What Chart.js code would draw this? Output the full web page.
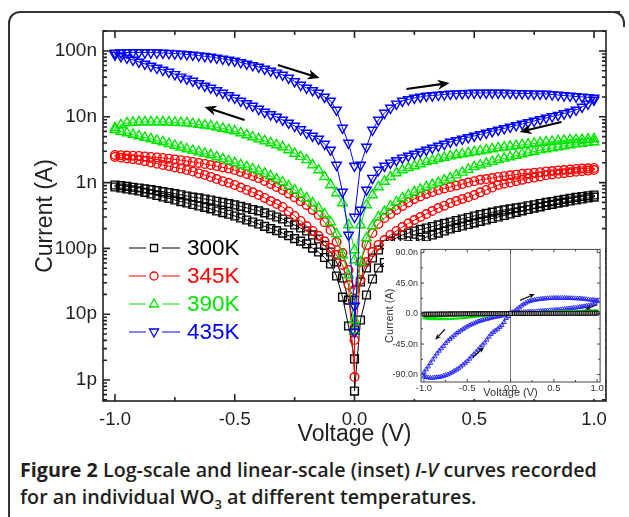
<!DOCTYPE html>
<html>
<head>
<meta charset="utf-8">
<script src="https://cdn.jsdelivr.net/npm/chart.js@4.4.0/dist/chart.umd.min.js"></script>
<style>
html, body { margin: 0; padding: 0; background: #fff; }
body { width: 629px; height: 517px; position: relative; overflow: hidden; }
#frame { position: absolute; left: 8px; top: 11px; width: 610px; height: 520px;
  border-top: 2px solid #333; border-left: 2px solid #333; border-top-left-radius: 12px; }
#corner { position: absolute; left: 610px; top: 11px; width: 13px; height: 14px;
  border-top: 2px solid #333; border-right: 2px solid #333; border-top-right-radius: 12px; }
#main { position: absolute; left: 0; top: 0; }
#inset { position: absolute; left: 384px; top: 241px; }
#cap { position: absolute; left: 20px; top: 456px; font-family: 'Open Sans', sans-serif;
  font-weight: 600; font-size: 19.7px; line-height: 27px; color: #231f20; white-space: nowrap; }
#cap b { font-weight: 700; }
#cap sub { font-size: 13px; line-height: 0; }
</style>
</head>
<body>
<div id="frame"></div>
<div id="corner"></div>
<canvas id="main" width="629" height="450"></canvas>
<canvas id="inset" width="221" height="158"></canvas>
<div id="cap"><b>Figure 2</b> Log-scale and linear-scale (inset) <i>I-V</i> curves recorded<br>for an individual WO<sub>3</sub> at different temperatures.</div>
<script>
// sweep voltages (V)
const vPos = [0, 0.025, 0.05, 0.075, 0.1, 0.125, 0.15, 0.175, 0.2, 0.225, 0.25, 0.275, 0.3, 0.325, 0.35, 0.375, 0.4,
  0.425, 0.45, 0.475, 0.5, 0.525, 0.55, 0.575, 0.6, 0.625, 0.65, 0.675, 0.7, 0.725, 0.75, 0.775, 0.8, 0.825, 0.85,
  0.875, 0.9, 0.925, 0.95, 0.975, 1];
const vNeg = [0, -0.025, -0.05, -0.075, -0.1, -0.125, -0.15, -0.175, -0.2, -0.225, -0.25, -0.275, -0.3, -0.325, -0.35,
  -0.375, -0.4, -0.425, -0.45, -0.475, -0.5, -0.525, -0.55, -0.575, -0.6, -0.625, -0.65, -0.675, -0.7, -0.725, -0.75,
  -0.775, -0.8, -0.825, -0.85, -0.875, -0.9, -0.925, -0.95, -0.975, -1];

// |current| in nA, four sweep legs: 0->1, 1->0, 0->-1, -1->0
const i300Up = [0.0164, 0.0309, 0.0504, 0.0714, 0.0946, 0.113, 0.129, 0.144, 0.160, 0.171, 0.184, 0.194, 0.204, 0.215,
  0.227, 0.240, 0.252, 0.265, 0.280, 0.295, 0.311, 0.326, 0.340, 0.355, 0.371, 0.384, 0.399, 0.413, 0.426, 0.444, 0.460,
  0.480, 0.500, 0.515, 0.535, 0.555, 0.575, 0.595, 0.615, 0.630, 0.648];
const i300Back = [0.600, 0.584, 0.563, 0.544, 0.525, 0.505, 0.487, 0.466, 0.449, 0.428, 0.410, 0.390, 0.371, 0.352,
  0.333, 0.316, 0.300, 0.285, 0.270, 0.257, 0.244, 0.231, 0.219, 0.208, 0.197, 0.184, 0.171, 0.160, 0.149, 0.136, 0.125,
  0.113, 0.101, 0.0866, 0.0740, 0.0610, 0.0504, 0.0343, 0.0196, 0.00817, 0.00068];
const i300Neg = [0.00209, 0.00662, 0.0182, 0.0381, 0.0579, 0.0728, 0.0882, 0.101, 0.117, 0.129, 0.141, 0.156, 0.171,
  0.186, 0.200, 0.216, 0.235, 0.252, 0.270, 0.290, 0.311, 0.330, 0.350, 0.370, 0.399, 0.420, 0.441, 0.465, 0.490, 0.515,
  0.544, 0.575, 0.604, 0.637, 0.671, 0.710, 0.746, 0.773, 0.800, 0.828, 0.857];
const i300NegBack = [0.920, 0.900, 0.874, 0.850, 0.828, 0.800, 0.780, 0.756, 0.730, 0.705, 0.680, 0.652, 0.626, 0.600,
  0.584, 0.563, 0.544, 0.520, 0.500, 0.479, 0.457, 0.435, 0.413, 0.390, 0.371, 0.346, 0.322, 0.300, 0.280, 0.252, 0.227,
  0.204, 0.184, 0.160, 0.139, 0.111, 0.0882, 0.0621, 0.0355, 0.0164, 0.00575];

const i345Up = [0.0233, 0.0621, 0.113, 0.171, 0.235, 0.290, 0.333, 0.384, 0.441, 0.500, 0.563, 0.614, 0.671, 0.720,
  0.773, 0.814, 0.857, 0.900, 0.950, 1.00, 1.05, 1.10, 1.13, 1.17, 1.22, 1.25, 1.29, 1.32, 1.36, 1.38, 1.41, 1.44, 1.48,
  1.50, 1.53, 1.55, 1.58, 1.61, 1.63, 1.65, 1.67];
const i345Back = [1.55, 1.52, 1.49, 1.46, 1.43, 1.39, 1.36, 1.33, 1.29, 1.24, 1.19, 1.15, 1.10, 1.05, 1.00, 0.96, 0.920,
  0.840, 0.773, 0.710, 0.648, 0.600, 0.563, 0.525, 0.490, 0.445, 0.410, 0.370, 0.333, 0.300, 0.270, 0.240, 0.211, 0.184,
  0.160, 0.134, 0.113, 0.0882, 0.0621, 0.0331, 0.00405];
const i345Neg = [0.00111, 0.0278, 0.0560, 0.0794, 0.101, 0.128, 0.155, 0.184, 0.219, 0.261, 0.311, 0.364, 0.426, 0.473,
  0.525, 0.584, 0.648, 0.710, 0.773, 0.840, 0.920, 0.990, 1.05, 1.13, 1.22, 1.30, 1.38, 1.47, 1.55, 1.63, 1.70, 1.78,
  1.85, 1.94, 2.02, 2.12, 2.21, 2.27, 2.33, 2.39, 2.45];
const i345NegBack = [2.63, 2.61, 2.58, 2.56, 2.54, 2.50, 2.45, 2.41, 2.37, 2.31, 2.25, 2.19, 2.13, 2.06, 1.99, 1.92,
  1.85, 1.78, 1.70, 1.63, 1.55, 1.45, 1.35, 1.26, 1.17, 1.06, 0.950, 0.857, 0.773, 0.680, 0.600, 0.520, 0.457, 0.384,
  0.322, 0.250, 0.190, 0.125, 0.0850, 0.0470, 0.0233];

const i390Up = [0.0667, 0.227, 0.457, 0.648, 0.857, 1.04, 1.22, 1.40, 1.55, 1.67, 1.79, 1.92, 2.06, 2.17, 2.29, 2.41,
  2.54, 2.63, 2.72, 2.82, 2.92, 3.02, 3.13, 3.24, 3.36, 3.45, 3.54, 3.64, 3.73, 3.84, 3.93, 4.04, 4.14, 4.21, 4.29, 4.37,
  4.44, 4.49, 4.52, 4.57, 4.60];
const i390Back = [4.14, 4.04, 3.93, 3.84, 3.73, 3.60, 3.48, 3.36, 3.24, 3.11, 2.97, 2.85, 2.72, 2.58, 2.45, 2.33, 2.21,
  2.08, 1.96, 1.84, 1.73, 1.58, 1.43, 1.30, 1.17, 1.09, 1.00, 0.93, 0.857, 0.788, 0.720, 0.648, 0.584, 0.507, 0.441,
  0.362, 0.300, 0.219, 0.144, 0.0621, 0.00817];
const i390Neg = [0.00575, 0.0394, 0.0794, 0.166, 0.252, 0.333, 0.411, 0.490, 0.584, 0.671, 0.773, 0.888, 1.02, 1.13,
  1.26, 1.38, 1.50, 1.61, 1.73, 1.85, 1.99, 2.13, 2.29, 2.45, 2.63, 2.77, 2.92, 3.07, 3.24, 3.45, 3.66, 3.90, 4.14, 4.37,
  4.60, 4.85, 5.11, 5.38, 5.67, 5.98, 6.30];
const i390NegBack = [6.76, 7.50, 8.05, 8.20, 8.34, 8.34, 8.34, 8.34, 8.34, 8.27, 8.19, 8.12, 8.05, 7.85, 7.60, 7.45,
  7.24, 6.93, 6.64, 6.36, 6.08, 5.67, 5.29, 4.93, 4.60, 4.29, 4.00, 3.73, 3.48, 3.13, 2.77, 2.48, 2.21, 1.85, 1.55, 1.22,
  0.920, 0.695, 0.490, 0.227, 0.0946];

const i435Up = [0.300, 1.85, 3.48, 6.30, 8.94, 11.4, 13.6, 15.7, 17.4, 18.3, 19.3, 20.0, 20.7, 21.0, 21.4, 21.8, 22.2,
  22.4, 22.6, 22.8, 23.0, 23.0, 23.0, 23.0, 23.0, 23.0, 22.8, 22.7, 22.6, 22.5, 22.3, 22.2, 22.2, 21.8, 21.4, 21.0, 20.7,
  20.3, 20.0, 19.7, 19.3];
const i435Back = [18.0, 15.7, 14.1, 12.7, 11.8, 11.2, 10.6, 10.1, 9.59, 9.10, 8.63, 8.19, 7.78, 7.38, 7.00, 6.64, 6.30,
  5.98, 5.67, 5.38, 5.11, 4.85, 4.60, 4.37, 4.14, 3.86, 3.60, 3.36, 3.13, 2.92, 2.72, 2.54, 2.37, 2.17, 1.99, 1.79, 1.55,
  1.17, 0.773, 0.384, 0.00536];
const i435Neg = [0.0133, 0.160, 0.720, 1.85, 3.13, 3.86, 4.60, 5.11, 5.67, 6.41, 7.24, 8.05, 8.94, 9.93, 10.8, 11.8,
  13.1, 14.6, 15.9, 17.4, 19.3, 21.0, 23.0, 25.1, 27.4, 29.4, 32.1, 35.0, 37.6, 40.4, 44.0, 48.0, 51.4, 55.1, 59.2, 63.5,
  68.1, 73.0, 78.3, 82.5, 86.9];
const i435NegBack = [93.2, 93.9, 94.5, 94.9, 94.9, 94.5, 94.2, 93.9, 93.2, 92.3, 91.0, 90.0, 88.5, 86.9, 84.8, 83.0,
  81.1, 78.3, 75.6, 73.0, 70.5, 66.9, 63.5, 60.2, 57.1, 53.3, 49.7, 46.4, 43.2, 38.9, 34.4, 30.4, 27.4, 25.1, 23.0, 20.0,
  17.4, 12.7, 6.76, 4.00, 1.79];

const seriesNames = ['300K', '345K', '390K', '435K'];

// axis ticks
const xTicks = [-1, -0.5, 0, 0.5, 1];
const yTicks = [0.001, 0.01, 0.1, 1, 10, 100];        // nA
const yTickLabels = ['1p', '10p', '100p', '1n', '10n', '100n'];
const insetYTicks = [-90, -45, 0, 45, 90];            // nA
const insetYLabels = ['-90.0n', '-45.0n', '0.0', '45.0n', '90.0n'];

// arrow annotations [V, I(nA)] tail -> head
const arrowTails = [[-0.32, 61.3], [0.217, 26.4], [0.864, 8.34], [-0.459, 8.94]];
const arrowHeads = [[-0.146, 38.9], [0.397, 32.6], [0.689, 5.87], [-0.626, 14.1]];
const insetArrowTails = [[0.11, 19.4], [1.0, 13], [-0.757, -23.1], [-0.437, -64.8]];
const insetArrowHeads = [[0.28, 28.8], [0.86, 6], [-0.87, -38.7], [-0.305, -49.6]];

const FONT = "'Liberation Sans', Arial, sans-serif";
const COLORS = ['#000000', '#ff0000', '#00e600', '#0000ff'];

function sweep(up, back, neg, negBack) {
  const pts = [];
  up.forEach((c, k) => pts.push({x: vPos[k], y: c}));
  back.forEach((c, k) => pts.push({x: vPos[vPos.length - 1 - k], y: c}));
  neg.forEach((c, k) => pts.push({x: vNeg[k], y: c}));
  negBack.forEach((c, k) => pts.push({x: vNeg[vNeg.length - 1 - k], y: c}));
  return pts;
}
function signed(pts) {
  return pts.map(p => ({x: p.x, y: p.x < 0 ? -p.y : p.y}));
}

const sweeps = [
  sweep(i300Up, i300Back, i300Neg, i300NegBack),
  sweep(i345Up, i345Back, i345Neg, i345NegBack),
  sweep(i390Up, i390Back, i390Neg, i390NegBack),
  sweep(i435Up, i435Back, i435Neg, i435NegBack)
];
const markers = [
  {style: 'rect', r: 5.5, rot: 0},
  {style: 'circle', r: 4.3, rot: 0},
  {style: 'triangle', r: 5.5, rot: 0},
  {style: 'triangle', r: 5.5, rot: 180}
];

function drawArrow(ctx, x0, y0, x1, y1, lw, head) {
  const a = Math.atan2(y1 - y0, x1 - x0), c = Math.cos(a), s = Math.sin(a);
  ctx.lineWidth = lw;
  ctx.beginPath();
  ctx.moveTo(x0, y0);
  ctx.lineTo(x1 - c * head * 0.7, y1 - s * head * 0.7);
  ctx.stroke();
  ctx.beginPath();
  ctx.moveTo(x1, y1);
  ctx.lineTo(x1 - head * c + head * 0.42 * s, y1 - head * s - head * 0.42 * c);
  ctx.lineTo(x1 - head * 0.7 * c, y1 - head * 0.7 * s);
  ctx.lineTo(x1 - head * c - head * 0.42 * s, y1 - head * s + head * 0.42 * c);
  ctx.closePath();
  ctx.fill();
}

function frameTicks(cfg) {
  return {
    id: 'frameTicks',
    afterDraw(chart) {
      const {ctx, chartArea: a, scales: {x, y}} = chart;
      ctx.save();
      ctx.strokeStyle = cfg.color;
      ctx.lineWidth = cfg.width;
      ctx.strokeRect(a.left, a.top, a.right - a.left, a.bottom - a.top);
      ctx.beginPath();
      const tx = (v, len) => {
        const p = x.getPixelForValue(v);
        ctx.moveTo(p, a.bottom); ctx.lineTo(p, a.bottom - len);
        ctx.moveTo(p, a.top); ctx.lineTo(p, a.top + len);
      };
      const ty = (v, len) => {
        if (v < y.min || v > y.max) return;
        const p = y.getPixelForValue(v);
        ctx.moveTo(a.left, p); ctx.lineTo(a.left + len, p);
        ctx.moveTo(a.right, p); ctx.lineTo(a.right - len, p);
      };
      cfg.xMajor.forEach(v => tx(v, cfg.major));
      cfg.xMinor.forEach(v => tx(v, cfg.minor));
      cfg.yMajor.forEach(v => ty(v, cfg.major));
      cfg.yMinor.forEach(v => ty(v, cfg.minor));
      ctx.stroke();
      ctx.restore();
    }
  };
}

function legendMark(ctx, m, x, y, color) {
  ctx.strokeStyle = color;
  ctx.lineWidth = 1.3;
  ctx.beginPath();
  if (m.style === 'rect') {
    ctx.rect(x - 3.5, y - 3.5, 7, 7);
  } else if (m.style === 'circle') {
    ctx.arc(x, y, 4, 0, Math.PI * 2);
  } else {
    const d = m.rot ? -1 : 1;
    ctx.moveTo(x, y - d * 5);
    ctx.lineTo(x + 4.5, y + d * 3);
    ctx.lineTo(x - 4.5, y + d * 3);
    ctx.closePath();
  }
  ctx.stroke();
}

const mainExtras = {
  id: 'mainExtras',
  afterDraw(chart) {
    const {ctx, chartArea: a, scales: {x, y}} = chart;
    ctx.save();
    // legend
    ctx.font = '22.5px ' + FONT;
    ctx.textBaseline = 'middle';
    seriesNames.forEach((name, k) => {
      const ly = a.top + 217 + k * 28;
      const lx = a.left + 26;
      ctx.strokeStyle = COLORS[k];
      ctx.lineWidth = 1;
      ctx.beginPath();
      ctx.moveTo(lx, ly); ctx.lineTo(lx + 17, ly);
      ctx.moveTo(lx + 33, ly); ctx.lineTo(lx + 51, ly);
      ctx.stroke();
      legendMark(ctx, markers[k], lx + 25, ly, COLORS[k]);
      ctx.fillStyle = COLORS[k];
      ctx.fillText(name, lx + 58, ly + 1);
    });
    // sweep arrows
    ctx.strokeStyle = '#000';
    ctx.fillStyle = '#000';
    arrowTails.forEach((t, k) => {
      const h = arrowHeads[k];
      drawArrow(ctx, x.getPixelForValue(t[0]), y.getPixelForValue(t[1]),
        x.getPixelForValue(h[0]), y.getPixelForValue(h[1]), 2.2, 12);
    });
    ctx.restore();
  }
};

const yMinorMain = [];
[0.0001, 0.001, 0.01, 0.1, 1, 10, 100].forEach(d => {
  for (let m = 2; m <= 9; m++) yMinorMain.push(d * m);
});

new Chart(document.getElementById('main'), {
  type: 'scatter',
  data: {
    datasets: sweeps.map((pts, k) => ({
      label: seriesNames[k],
      data: pts,
      showLine: true,
      borderColor: COLORS[k],
      borderWidth: 1,
      pointStyle: markers[k].style,
      pointRadius: markers[k].r,
      pointRotation: markers[k].rot,
      pointBorderWidth: 1.4,
      pointBackgroundColor: 'rgba(0,0,0,0)',
      order: 3 - k
    }))
  },
  options: {
    responsive: false,
    animation: false,
    events: [],
    layout: {padding: {left: 0, top: 31, right: 23, bottom: 0}},
    plugins: {legend: {display: false}, tooltip: {enabled: false}},
    scales: {
      x: {
        type: 'linear', min: -1.05, max: 1.05,
        afterBuildTicks: s => { s.ticks = xTicks.map(v => ({value: v})); },
        afterFit: s => { s.height = 49; },
        grid: {display: false, drawTicks: false},
        border: {display: false},
        ticks: {padding: 8, color: '#222', autoSkip: false, maxRotation: 0,
          font: {family: FONT, size: 18.5}, callback: v => v.toFixed(1)},
        title: {display: true, text: 'Voltage (V)', color: '#222',
          font: {family: FONT, size: 23}, padding: {top: 0, bottom: 2}}
      },
      y: {
        type: 'logarithmic', min: 0.00048, max: 201,
        afterBuildTicks: s => { s.ticks = yTicks.map(v => ({value: v})); },
        afterFit: s => { s.width = 103; },
        grid: {display: false, drawTicks: false},
        border: {display: false},
        ticks: {padding: 6, color: '#222', autoSkip: false,
          font: {family: FONT, size: 19}, callback: (v, i) => yTickLabels[i]},
        title: {display: true, text: 'Current (A)', color: '#222',
          font: {family: FONT, size: 23}, padding: {top: 32, bottom: 0}}
      }
    }
  },
  plugins: [frameTicks({color: '#222', width: 1.6, major: 7, minor: 4,
    xMajor: xTicks, xMinor: [-0.75, -0.25, 0.25, 0.75], yMajor: yTicks, yMinor: yMinorMain}), mainExtras]
});

// ---------- inset (linear scale) ----------
const insetStyles = [
  {color: '#000000', bg: '#9a9a9a', style: 'rect', r: 2.6, line: 1, pbw: 0.8},
  {color: '#ff0000', bg: '#ff0000', style: 'circle', r: 0, line: 2, pbw: 0},
  {color: '#00e600', bg: '#00e600', style: 'circle', r: 0, line: 2.2, pbw: 0},
  {color: '#2020ff', bg: 'rgba(0,0,0,0)', style: 'triangle', r: 2.6, line: 0.8, pbw: 0.9}
];

const insetExtras = {
  id: 'insetExtras',
  beforeDraw(chart) {
    const ctx = chart.ctx;
    ctx.save();
    ctx.fillStyle = '#fff';
    ctx.fillRect(0, 0, chart.width, chart.height);
    ctx.restore();
  },
  afterDraw(chart) {
    const {ctx, scales: {x, y}} = chart;
    ctx.save();
    ctx.strokeStyle = '#111';
    ctx.fillStyle = '#111';
    insetArrowTails.forEach((t, k) => {
      const h = insetArrowHeads[k];
      drawArrow(ctx, x.getPixelForValue(t[0]), y.getPixelForValue(t[1]),
        x.getPixelForValue(h[0]), y.getPixelForValue(h[1]), 1.2, 6);
    });
    ctx.restore();
  }
};

new Chart(document.getElementById('inset'), {
  type: 'scatter',
  data: {
    datasets: sweeps.map((pts, k) => ({
      label: seriesNames[k],
      data: signed(pts),
      showLine: true,
      borderColor: insetStyles[k].color,
      borderWidth: insetStyles[k].line,
      pointStyle: insetStyles[k].style,
      pointRadius: insetStyles[k].r,
      pointBorderWidth: insetStyles[k].pbw,
      pointBackgroundColor: insetStyles[k].bg,
      order: k
    }))
  },
  options: {
    responsive: false,
    animation: false,
    events: [],
    layout: {padding: {left: 0, top: 3, right: 1, bottom: 0}},
    plugins: {legend: {display: false}, tooltip: {enabled: false}},
    scales: {
      x: {
        type: 'linear', min: -1.034, max: 1.034,
        afterBuildTicks: s => { s.ticks = xTicks.map(v => ({value: v})); },
        afterFit: s => { s.height = 17; },
        grid: {drawTicks: false, lineWidth: 1,
          color: c => (c.tick && c.tick.value === 0 ? '#777' : 'rgba(0,0,0,0)')},
        border: {display: false},
        ticks: {padding: 1, color: '#333', autoSkip: false, maxRotation: 0,
          font: {family: FONT, size: 9.5}, callback: v => v.toFixed(1)},
        title: {display: true, text: 'Voltage (V)', color: '#333',
          font: {family: FONT, size: 11}, padding: {top: 0, bottom: -1}}
      },
      y: {
        type: 'linear', min: -101, max: 94.7,
        afterBuildTicks: s => { s.ticks = insetYTicks.map(v => ({value: v})); },
        afterFit: s => { s.width = 37; },
        grid: {display: false, drawTicks: false},
        border: {display: false},
        ticks: {padding: 3, color: '#333', autoSkip: false,
          font: {family: FONT, size: 9}, callback: (v, i) => insetYLabels[i]},
        title: {display: true, text: 'Current (A)', color: '#333',
          font: {family: FONT, size: 11}, padding: {top: -1, bottom: 0}}
      }
    }
  },
  plugins: [frameTicks({color: '#444', width: 1, major: 3, minor: 2,
    xMajor: xTicks, xMinor: [-0.75, -0.25, 0.25, 0.75],
    yMajor: insetYTicks, yMinor: [-67.5, -22.5, 22.5, 67.5]}), insetExtras]
});
</script>
</body>
</html>
